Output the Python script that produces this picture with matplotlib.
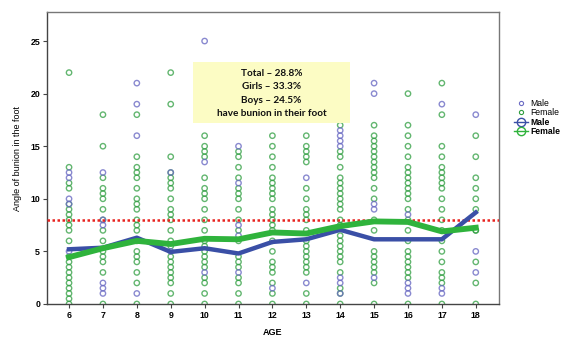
import matplotlib
matplotlib.use("Agg")
import matplotlib.pyplot as plt
from matplotlib.lines import Line2D
from matplotlib.patches import Rectangle

ages = [6, 7, 8, 9, 10, 11, 12, 13, 14, 15, 16, 17, 18]

female_pts = [
    [22, 13, 11.5, 11, 9.5, 9, 8.5, 8, 7.5, 7, 6, 4.5, 4, 3.5, 3, 2.5, 2, 1.5, 1, 0.5, 0],
    [18, 15, 12, 11, 10.5, 10, 9, 8, 7, 6, 5, 4.5, 4, 3, 0],
    [18, 14, 13, 12.5, 12, 11, 10, 9.5, 9, 8, 7.5, 7, 6, 5, 4.5, 4, 3, 2, 0],
    [22, 19, 14, 12.5, 12, 11.5, 11, 10, 9, 8.5, 8, 7, 6, 5.5, 4.5, 4, 3.5, 3, 2.5, 2, 1, 0],
    [16, 15, 14.5, 14, 12, 11, 10.5, 10, 9, 8, 7, 6, 5.5, 5, 4.5, 4, 3.5, 2.5, 2, 1, 0],
    [14.5, 14, 13, 12, 11, 10.5, 10, 9, 8, 7, 6, 4.5, 4, 3.5, 2.5, 2, 1, 0],
    [16, 15, 14, 13, 12, 11.5, 11, 10.5, 10, 9, 8.5, 8, 7.5, 7, 6, 5, 4, 3.5, 3, 2, 1, 0],
    [16, 15, 14.5, 14, 13.5, 11, 10, 9, 8.5, 8, 7, 6, 5.5, 5, 4.5, 4, 3.5, 3, 1, 0],
    [17, 14.5, 14, 13, 12, 11.5, 11, 10.5, 10, 9.5, 9, 8, 7.5, 6.5, 6, 5.5, 5, 4.5, 4, 3, 1.5, 1, 0],
    [17, 16, 15.5, 15, 14.5, 14, 13.5, 13, 12.5, 12, 11, 10, 8, 7, 5, 4.5, 4, 3.5, 3, 2, 0],
    [20, 17, 16, 15, 14, 13, 12.5, 12, 11.5, 11, 10.5, 10, 9, 8, 7, 6, 5, 4.5, 4, 3.5, 3, 2.5, 0],
    [21, 18, 15, 14, 13, 12.5, 12, 11.5, 11, 10, 9, 8, 7, 6, 5, 4, 3, 2.5, 2, 0],
    [16, 14, 12, 11, 10, 9, 7, 7, 4, 2, 0],
]
male_pts = [
    [12.5, 12, 10, 9.5, 5],
    [12.5, 8, 7.5, 2, 1.5, 1],
    [21, 19, 16, 1],
    [12.5, 5],
    [25, 13.5, 3],
    [15, 11.5, 7.5, 6.5, 3],
    [1.5],
    [12, 2],
    [16.5, 16, 15.5, 15, 2.5, 2, 1],
    [21, 20, 9.5, 9, 2.5],
    [8.5, 2, 1.5, 1],
    [19, 1.5, 1],
    [18, 5, 3],
]

# mean lines
male_mean = [5.2, 5.35, 6.3, 4.95, 5.3, 4.8, 5.9, 6.15, 7.05, 6.15, 6.15, 6.15, 8.7]
female_mean = [4.45, 5.3, 6.0, 5.7, 6.2, 6.15, 6.8, 6.7, 7.4, 7.85, 7.8, 6.9, 7.25]

threshold = 8
box_lines = ["Total \u2013 28.8%", "Girls \u2013 33.3%", "Boys \u2013 24.5%", "have bunion in their foot"]

male_pt_col = "#6c6cc4"
female_pt_col = "#2f9e40"
male_line_col = "#3a4fa6"
female_line_col = "#2fb33c"

plt.rcParams['font.family'] = ['Liberation Sans', 'DejaVu Sans']

fig = plt.figure(figsize=(5.63, 3.37), dpi=100)
ax = fig.add_axes([0.0835, 0.098, 0.8025, 0.866])

for a, pts in zip(ages, female_pts):
    ax.scatter([a] * len(pts), pts, s=15, facecolors='none', edgecolors=female_pt_col,
               linewidths=1.0, alpha=0.75, zorder=2)
for a, pts in zip(ages, male_pts):
    ax.scatter([a] * len(pts), pts, s=15, facecolors='none', edgecolors=male_pt_col,
               linewidths=1.0, alpha=0.8, zorder=2)

ax.axhline(threshold, color='#e8231f', lw=1.8, ls=(0, (1, 1)), zorder=3)

ax.plot(ages, male_mean, color=male_line_col, lw=3.2, solid_joinstyle='round', zorder=4)
ax.plot(ages, female_mean, color=female_line_col, lw=4.2, solid_joinstyle='round', zorder=5)

ax.set_xlim(5.35, 18.68)
ax.set_ylim(0, 27.75)
ax.set_xticks(ages)
ax.set_yticks([0, 5, 10, 15, 20, 25])
ax.tick_params(axis='both', labelsize=6.3, length=3, width=0.8, color='#444444', pad=2)
for lbl in ax.get_xticklabels() + ax.get_yticklabels():
    lbl.set_fontweight('bold')
for sp in ax.spines.values():
    sp.set_color('#777777')
    sp.set_linewidth(1.0)
ax.spines['bottom'].set_color('#444444')
ax.spines['left'].set_color('#444444')

ax.set_xlabel("AGE", fontsize=6.5, fontweight='bold', labelpad=6)
ax.set_ylabel("Angle of bunion in the foot", fontsize=6.5, labelpad=6)

# note box
ax.add_patch(Rectangle((0.323, 0.62), 0.347, 0.21, transform=ax.transAxes,
                       facecolor='#fcfcc4', edgecolor='none', zorder=6))
for i, t in enumerate(box_lines):
    ax.text(0.497, 0.79 - i * 0.046, t, transform=ax.transAxes, ha='center', va='center',
            fontsize=7.2, fontweight='bold', family=['Lato', 'DejaVu Sans'], color='#111111', zorder=7)

handles = [
    Line2D([], [], ls='none', marker='o', ms=3, mfc='none', mec=male_pt_col, mew=0.8),
    Line2D([], [], ls='none', marker='o', ms=3, mfc='none', mec=female_pt_col, mew=0.8),
    Line2D([], [], color=male_line_col, lw=1.0, marker='o', ms=6, mfc='none', mec=male_line_col),
    Line2D([], [], color=female_line_col, lw=1.0, marker='o', ms=6, mfc='none', mec=female_line_col),
]
leg = fig.legend(handles, ["Male", "Female", "Male", "Female"], loc='upper left',
                 bbox_to_anchor=(0.906, 0.72), frameon=False, fontsize=6.2,
                 handlelength=1.6, handletextpad=0.3, labelspacing=0.05, borderpad=0)
for i, t in enumerate(leg.get_texts()):
    if i >= 2:
        t.set_fontweight('bold')

fig.savefig("out.png", dpi=100)
